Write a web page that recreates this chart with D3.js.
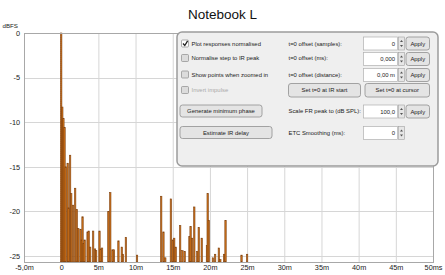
<!DOCTYPE html>
<html><head><meta charset="utf-8">
<script src="https://cdn.jsdelivr.net/npm/d3@7"></script>
<style>
html,body{margin:0;padding:0;background:#fff;}
svg{display:block;font-family:"Liberation Sans",Arial,sans-serif;}
</style></head>
<body>
<svg id="c" width="445" height="275"></svg>
<script>
// ---- data ----
const chartTitle = "Notebook L";
const xTicks = [-5,0,5,10,15,20,25,30,35,40,45,50];
const xTickLabels = ["-5,0m","0","5m","10m","15m","20m","25m","30m","35m","40m","45m","50ms"];
const yTicks = [0,-5,-10,-15,-20,-25];
const yTickLabels = ["0","-5","-10","-15","-20","-25"];
const irTimesMs = [0,0.15,0.3,0.45,0.6,0.87,1.0,1.2,1.35,1.6,1.88,2.1,2.3,2.6,2.75,2.87,3.0,3.15,3.55,3.7,3.9,4.3,4.55,4.7,5.15,5.3,5.5,6.35,6.6,6.9,7.1,7.7,8.15,8.3,8.7,10.2,13.45,13.75,14.0,14.75,15.0,15.2,15.4,16.0,16.3,16.6,17.25,17.4,17.6,17.9,18.3,18.5,18.9,19.6,19.7,19.85,20.4,20.7,21.2,21.4,21.9,22.1,24.25,25.0];
const irLevelsDb = [0,-8.3,-9.6,-10.6,-15.0,-14.6,-19.6,-13.7,-18.0,-19.3,-17.4,-19.8,-21.9,-22.0,-23.2,-20.6,-23.6,-23.2,-22.3,-22.2,-24.0,-22.2,-24.2,-24.4,-22.2,-24.2,-24.1,-20.0,-17.9,-24.3,-24.3,-23.3,-24.0,-24.8,-22.9,-24.9,-18.3,-22.3,-25.2,-18.6,-23.2,-23.0,-24.0,-21.6,-24.4,-24.5,-22.8,-21.7,-23.0,-19.5,-24.5,-21.8,-23.0,-23.8,-18.0,-21.0,-25.2,-24.8,-24.1,-25.4,-24.8,-21.0,-24.9,-24.8];
const checkLabels = ["Plot responses normalised","Normalise step to IR peak","Show points when zoomed in","Invert impulse"];
const checkStates = [true,false,false,false];
const fieldLabels = ["t=0 offset (samples):","t=0 offset (ms):","t=0 offset (distance):"];
const fieldValues = ["0","0,000","0,00 m"];

// ---- layout ----
const svg = d3.select("#c");
const L = 24, R = 433, T = 33, B = 262;
const x = d3.scaleLinear().domain([-5,50]).range([L,R]);
const y = d3.scaleLinear().domain([0,-25.67]).range([T,B]);

svg.append("text").attr("x",222.5).attr("y",18.5).attr("text-anchor","middle")
  .attr("font-size",13.5).attr("fill","#111").text(chartTitle);

// grid
const g = svg.append("g");
g.selectAll(".vx").data(xTicks).join("line")
  .attr("x1",d=>x(d)+0.5).attr("x2",d=>x(d)+0.5).attr("y1",T).attr("y2",B)
  .attr("stroke","#d6d6d6");
g.selectAll(".hy").data(yTicks).join("line")
  .attr("y1",d=>Math.round(y(d))+0.5).attr("y2",d=>Math.round(y(d))+0.5).attr("x1",L).attr("x2",R)
  .attr("stroke","#d6d6d6");

// axes labels
const xa = d3.axisBottom(x).tickValues(xTicks).tickSize(0).tickPadding(3)
  .tickFormat((d,i)=>xTickLabels[i]);
const xg = svg.append("g").attr("transform",`translate(0,${B})`).call(xa);
xg.select(".domain").remove();
xg.selectAll("text").attr("font-size",7.3).attr("fill","#222").attr("font-family","Liberation Sans, Arial");
const ya = d3.axisLeft(y).tickValues(yTicks).tickSize(0).tickPadding(4)
  .tickFormat((d,i)=>yTickLabels[i]);
const yg = svg.append("g").attr("transform",`translate(${L},0)`).call(ya);
yg.select(".domain").remove();
yg.selectAll("text").attr("font-size",7.3).attr("fill","#222").attr("font-family","Liberation Sans, Arial");
svg.append("text").attr("x",18).attr("y",28).attr("text-anchor","end").attr("font-size",6.2)
  .attr("fill","#222").text("dBFS");

// t=0 marker
svg.append("line").attr("x1",x(0)).attr("x2",x(0)).attr("y1",T).attr("y2",B)
  .attr("stroke","#c0502a").attr("stroke-width",1).attr("stroke-dasharray","1,1");

// bars
const data = irTimesMs.map((t,i)=>({t,v:irLevelsDb[i]}));
svg.append("g").selectAll("rect").data(data).join("rect")
  .attr("x",d=>x(d.t)-0.7).attr("width",1.4)
  .attr("y",d=>y(d.v)).attr("height",d=>B-y(d.v))
  .attr("fill","#cf7219").attr("stroke","#7e400e").attr("stroke-width",0.6);

// frame
svg.append("rect").attr("x",L+0.5).attr("y",T+0.5).attr("width",R-L).attr("height",B-T)
  .attr("fill","none").attr("stroke","#a8a8a8");

// ---- control panel ----
const P = svg.append("g").attr("font-size",5.9).attr("fill","#222");
P.append("rect").attr("x",177).attr("y",32).attr("width",261).attr("height",134).attr("rx",5)
  .attr("fill","#efefef").attr("stroke","#9c9c9c").attr("stroke-width",1.5);

const rowY = [43.5,58,74.5,90];
checkLabels.forEach((lab,i)=>{
  P.append("rect").attr("x",181.5).attr("y",rowY[i]-3.5).attr("width",7).attr("height",7).attr("rx",1)
    .attr("fill", checkStates[i] ? "#fff" : "#dcdcdc").attr("stroke","#8d8d8d").attr("stroke-width",0.7);
  if (checkStates[i]) {
    P.append("path").attr("d",`M183,${rowY[i]} L184.8,${rowY[i]+2} L187.6,${rowY[i]-2.6}`)
      .attr("fill","none").attr("stroke","#222").attr("stroke-width",1.3);
  }
  P.append("text").attr("x",191.5).attr("y",rowY[i]+2.1).attr("fill", i===3 ? "#aaa" : "#222").text(lab);
});

function button(x0,y0,w,h,label){
  P.append("rect").attr("x",x0).attr("y",y0).attr("width",w).attr("height",h).attr("rx",2.5)
    .attr("fill","#e4e4e4").attr("stroke","#8f8f8f").attr("stroke-width",0.8);
  P.append("text").attr("x",x0+w/2).attr("y",y0+h/2+2.1).attr("text-anchor","middle").text(label);
}
function field(y0,val,apply,spin=true){
  P.append("rect").attr("x",363.5).attr("y",y0).attr("width",34).attr("height",13)
    .attr("fill","#fff").attr("stroke","#b0b0b0").attr("stroke-width",0.7);
  P.append("text").attr("x",395).attr("y",y0+8.7).attr("text-anchor","end").text(val);
  if (spin) {
    P.append("rect").attr("x",398.5).attr("y",y0).attr("width",6).attr("height",13)
      .attr("fill","#e6e6e6").attr("stroke","#a0a0a0").attr("stroke-width",0.6);
    P.append("path").attr("d",`M400,${y0+5} L401.5,${y0+3} L403,${y0+5} Z M400,${y0+8} L401.5,${y0+10} L403,${y0+8} Z`)
      .attr("fill","#555");
  }
  if (apply) button(406,y0,23.5,13,"Apply");
}
const fy = [37,52.5,68.5];
fieldLabels.forEach((lab,i)=>{
  P.append("text").attr("x",288.5).attr("y",rowY[i]+2.1).text(lab);
  field(fy[i],fieldValues[i],true);
});
button(288.5,83.5,72,13.5,"Set t=0 at IR start");
button(365,83.5,64.5,13.5,"Set t=0 at cursor");
button(180,105,82,12,"Generate minimum phase");
button(180,126.5,92,12,"Estimate IR delay");
P.append("text").attr("x",288.5).attr("y",113.1).text("Scale FR peak to (dB SPL):");
field(105,"100,0",true);
P.append("text").attr("x",288.5).attr("y",134.6).text("ETC Smoothing (ms):");
field(126.5,"0",false);
</script>
</body></html>
